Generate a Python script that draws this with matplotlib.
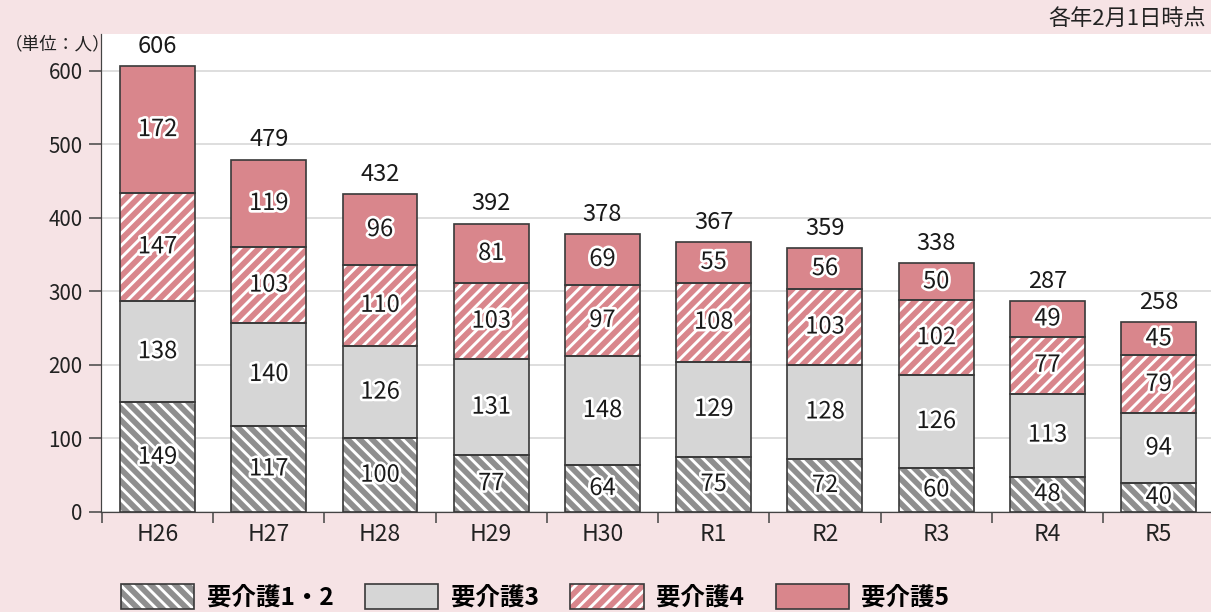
import numpy as np
import matplotlib
matplotlib.use("Agg")
import matplotlib.pyplot as plt
import matplotlib.patches as mpatches
import matplotlib.patheffects as pe
from matplotlib.legend_handler import HandlerTuple

plt.rcParams['font.family'] = ['Noto Sans CJK JP', 'DejaVu Sans']
plt.rcParams['hatch.linewidth'] = 1.9

# データ（各年2月1日時点, 単位: 人）
years = ["H26", "H27", "H28", "H29", "H30", "R1", "R2", "R3", "R4", "R5"]
kaigo12 = [149, 117, 100, 77, 64, 75, 72, 60, 48, 40]
kaigo3 = [138, 140, 126, 131, 148, 129, 128, 126, 113, 94]
kaigo4 = [147, 103, 110, 103, 97, 108, 103, 102, 77, 79]
kaigo5 = [172, 119, 96, 81, 69, 55, 56, 50, 49, 45]
series_names = ["要介護1・2", "要介護3", "要介護4", "要介護5"]

bg = "#f6e3e5"
gray_dark = "#8f8f8f"
gray_light = "#d6d6d6"
pink = "#d9868c"
edge = "#3a3a3a"
txt = "#1a1a1a"
styles = [
    dict(fc=gray_dark, hatch="\\\\\\"),
    dict(fc=gray_light, hatch=None),
    dict(fc=pink, hatch="///"),
    dict(fc=pink, hatch=None),
]

dpi = 110
fig = plt.figure(figsize=(1211 / dpi, 612 / dpi), dpi=dpi, facecolor=bg)
ax = fig.add_axes([101 / 1211, 1 - 512 / 612, 1 - 101 / 1211, (512 - 34) / 612])
ax.set_facecolor("white")

x = np.arange(len(years))
w = 0.674
data = [np.array(kaigo12), np.array(kaigo3), np.array(kaigo4), np.array(kaigo5)]
outline = [pe.withStroke(linewidth=3.5, foreground="white")]

bottom = np.zeros(len(years))
for vals, st in zip(data, styles):
    ax.bar(x, vals, w, bottom=bottom, color=st["fc"], edgecolor="white",
           hatch=st["hatch"], linewidth=0, zorder=2)
    ax.bar(x, vals, w, bottom=bottom, facecolor="none", edgecolor=edge,
           linewidth=1.1, zorder=3)
    for xi, b, v in zip(x, bottom, vals):
        ax.text(xi, b + v / 2, str(v), ha="center", va="center", fontsize=15.5,
                color=txt, path_effects=outline, zorder=4)
    bottom = bottom + vals

for xi, t in zip(x, bottom):
    ax.annotate(str(int(t)), (xi, t), xytext=(0, 5.5), textcoords="offset points",
                ha="center", va="bottom", fontsize=15.5, color=txt, zorder=4)

ax.set_xlim(-0.508, 9.47)
ax.set_ylim(0, 650)
ax.set_yticks(range(0, 601, 100))
ax.set_xticks(x)
ax.set_xticklabels(years, fontsize=15, color="#222222")
ax.set_xticks(np.arange(-0.5, 9.0, 1.0), minor=True)
ax.tick_params(axis="x", which="major", length=0, pad=7)
ax.tick_params(axis="x", which="minor", length=7, width=1, color="#444444", direction="out")
ax.tick_params(axis="y", length=8, width=1, color="#444444", labelsize=13.5,
               labelcolor="#222222", pad=4)
ax.yaxis.grid(True, color="#d4d4d4", linewidth=1, zorder=0)
ax.set_axisbelow(True)
for s in ["top", "right"]:
    ax.spines[s].set_visible(False)
ax.spines["left"].set_color("#444444")
ax.spines["bottom"].set_color("#444444")

fig.text(1206 / 1211, 1 - 19 / 612, "各年2月1日時点", ha="right", va="center",
         fontsize=14.5, color="#222222")
fig.text(5 / 1211, 1 - 44 / 612, "（単位：人）", ha="left", va="center",
         fontsize=11.5, color="#222222")

handles = []
for st in styles:
    p1 = mpatches.Patch(facecolor=st["fc"], edgecolor="white", hatch=st["hatch"], linewidth=0)
    p2 = mpatches.Patch(facecolor="none", edgecolor=edge, linewidth=1.1)
    handles.append((p1, p2))
fig.legend(handles, series_names, handler_map={tuple: HandlerTuple(ndivide=1, pad=0)},
           loc="center left", bbox_to_anchor=(121 / 1211, 1 - 597 / 612), ncol=4,
           frameon=False, borderpad=0, borderaxespad=0,
           prop=dict(size=16, weight="bold"), handlelength=3.0, handleheight=1.2,
           handletextpad=0.5, columnspacing=1.3)

fig.savefig("out.png", dpi=dpi, facecolor=bg)
